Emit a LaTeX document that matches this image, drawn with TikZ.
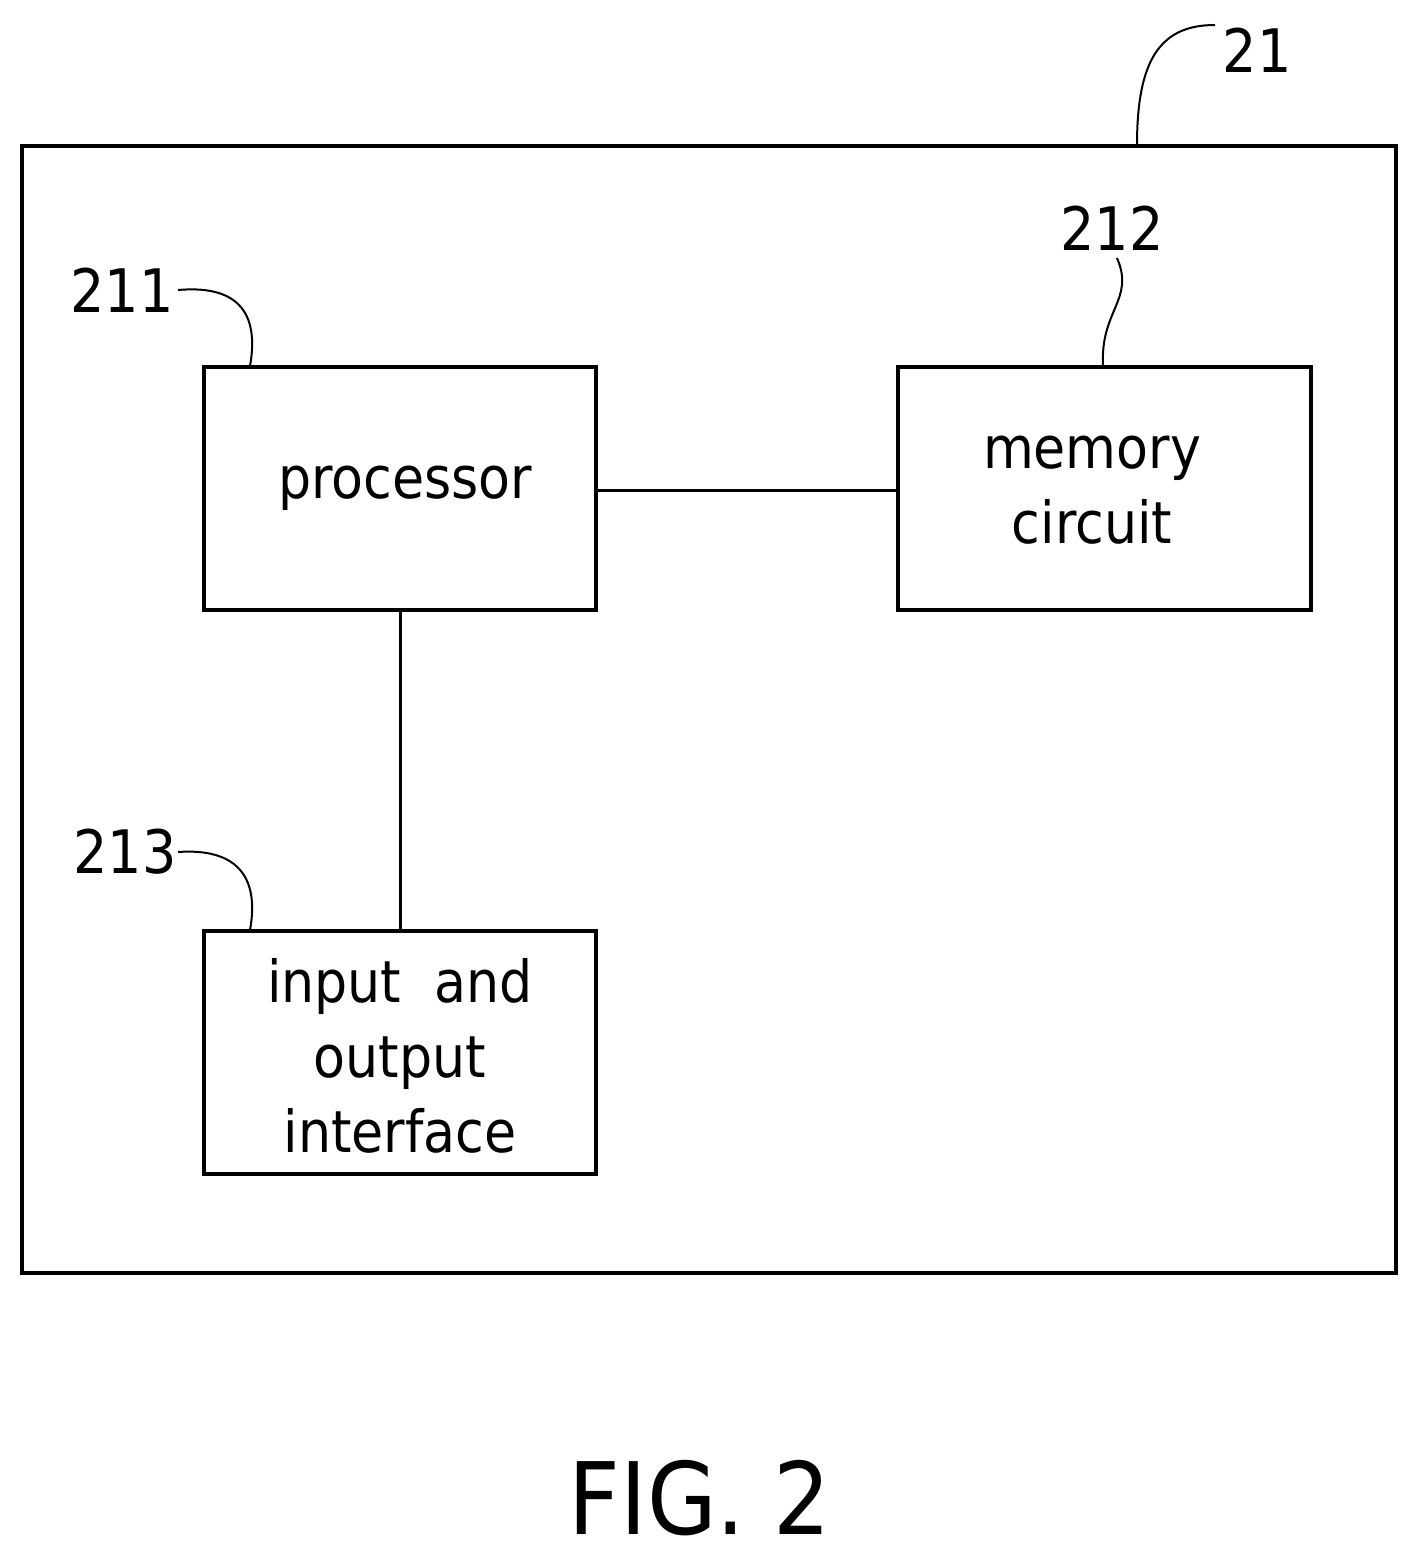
\documentclass[tikz,border=0pt]{standalone}
\usepackage{fontspec}
\setmainfont{DejaVu Sans Condensed}
\begin{document}
\begin{tikzpicture}[x=0.5pt,y=-0.5pt,
  blk/.style = {draw, line width=2pt, inner sep=0pt},
  lbl/.style = {font=\fontsize{29}{37.5}\selectfont, align=center},
  num/.style = {font=\fontsize{30}{30}\selectfont},
  lead/.style = {line width=1pt}]
        \useasboundingbox (0,0) rectangle (1419,1556);
        \draw[blk] (22,146) rectangle (1396,1273);
        \node[blk, minimum width=196pt, minimum height=121.5pt] (proc) at (400,488.5) {};
        \node[blk, minimum width=206.5pt, minimum height=121.5pt] (mem) at (1104.5,488.5) {};
        \node[blk, minimum width=196pt, minimum height=121.5pt] (io) at (400,1052.5) {};
        \node[lbl] (proct) at (405,488) {processor};
        \node[lbl] (memt) at (1092,490) {memory\\circuit};
        \node[lbl] (iot) at (400,1056) {input\ \ and\\output\\interface};
        \draw[line width=1.5pt] (proc.east |- 0,490) -- (mem.west |- 0,490);
        \draw[line width=1.5pt] (proc.south) -- (io.north);
        % reference numbers
        \node[num] (n21) at (1257,50) {21};
        \node[num] (n212) at (1112,228) {212};
        \node[num] (n211) at (122,290) {211};
        \node[num] (n213) at (125,852) {213};
        \coordinate (c21) at (1137,145);
        \coordinate (c212) at (1103,366);
        \coordinate (c211) at (250,366);
        \coordinate (c213) at (250,930);
        \draw[lead] (c21) .. controls (1137,60) and (1160,25) .. (1215,25);
        \draw[lead] (c212) .. controls (1100,310) and (1135,300) .. (1117,258);
        \draw[lead] (178,290) .. controls (235,285) and (260,310) .. (c211);
        \draw[lead] (178,852) .. controls (235,848) and (260,875) .. (c213);
        \node[font=\fontsize{50}{50}\selectfont] (fig) at (700,1498) {FIG.\ 2};
\end{tikzpicture}
\end{document}
